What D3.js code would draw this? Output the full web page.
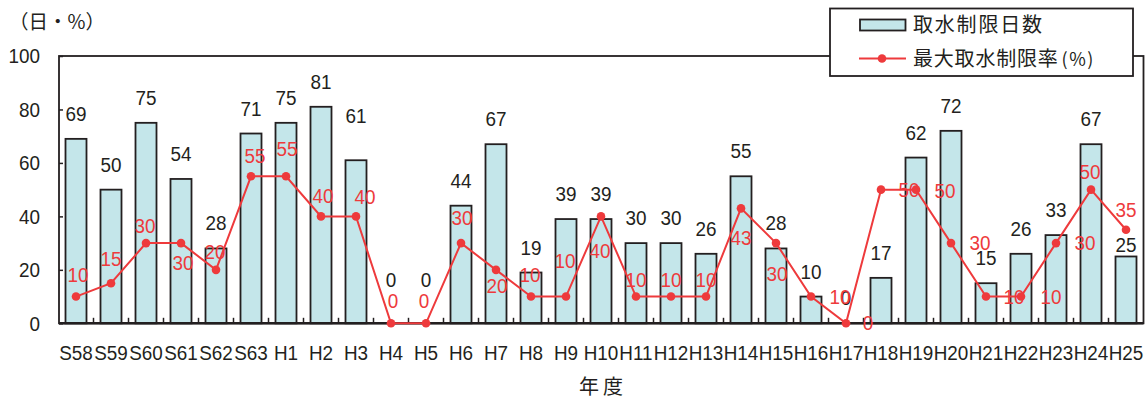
<!DOCTYPE html>
<html lang="ja">
<head>
<meta charset="utf-8">
<script src="https://cdn.jsdelivr.net/npm/d3@7"></script>
<style>
  html, body { margin: 0; padding: 0; background: #fff; }
  svg { display: block; }
</style>
</head>
<body>
<script>
// 年度
const years = ["S58","S59","S60","S61","S62","S63",
  "H1","H2","H3","H4","H5","H6","H7","H8","H9","H10",
  "H11","H12","H13","H14","H15","H16","H17","H18","H19","H20",
  "H21","H22","H23","H24","H25"];
// 取水制限日数（日）
const restrictionDays = [69,50,75,54,28,71,
  75,81,61,0,0,44,67,19,39,39,
  30,30,26,55,28,10,0,17,62,72,
  15,26,33,67,25];
// 最大取水制限率（%）
const maxRate = [10,15,30,30,20,55,
  55,40,40,0,0,30,20,10,10,40,
  10,10,10,43,30,10,0,50,50,30,
  10,10,30,50,35];
const yTicks = [0,20,40,60,80,100];

// label nudges (px): extra lift for some day labels, [dx, dy-of-baseline] for rate labels
const dayLabelLift = { H3: 19, H4: 18, H5: 18, H25: -14 };
const rateLabelShift = {
  S58: [2,-15], S59: [0,-17], S60: [-1,-10], S61: [2,27], S62: [-1,-11], S63: [4,-13],
  H1: [1,-20], H2: [2,-13], H3: [9,-12], H4: [2,-15], H5: [-2,-15], H6: [1,-18],
  H7: [1,23], H8: [-1,-15], H9: [-1,-29], H10: [-1,42], H11: [0,-10], H12: [0,-10],
  H13: [0,-10], H14: [0,37], H15: [1,38], H16: [29,7], H17: [22,7], H18: [28,7],
  H19: [29,8], H20: [29,7], H21: [28,7], H22: [30,7], H23: [29,7], H24: [-1,-11], H25: [0,-13]
};

const W = 1146, H = 400;
const plot = { left: 59, right: 1143.5, top: 56, bottom: 323.3 };
const ink = "#231f20", red = "#ee3a3c", barFill = "#c4e6ea";
const numFont = "'Liberation Sans', Arial, sans-serif";
const numSize = "21px";
const squeeze = 0.9; // horizontal condensing of the numeric font
const jpFont = "'Noto Sans CJK JP', 'Noto Sans', sans-serif";

const svg = d3.select("body").append("svg").attr("width", W).attr("height", H);

const x = d3.scaleBand().domain(years)
  .range([58.5, plot.right]).paddingInner(0.4).paddingOuter(0.2);
const y = d3.scaleLinear().domain([0, 100]).range([plot.bottom, plot.top]);
const cx = d => x(d) + x.bandwidth() / 2;

// condensed numeric text placed at (px, py)
function numText(sel, px, py, color) {
  return sel
    .attr("transform", (d, i) => `translate(${px(d, i)},${py(d, i)}) scale(${squeeze},1)`)
    .attr("text-anchor", "middle").attr("fill", color)
    .style("font-family", numFont).style("font-size", numSize);
}

// plot frame
svg.append("rect")
  .attr("x", plot.left).attr("y", plot.top)
  .attr("width", plot.right - plot.left).attr("height", plot.bottom - plot.top)
  .attr("fill", "none").attr("stroke", ink).attr("stroke-width", 1.8);

// y axis (inward ticks)
const gy = svg.append("g").attr("transform", `translate(${plot.left},0)`)
  .call(d3.axisLeft(y).tickValues(yTicks).tickSize(-4).tickPadding(19));
gy.select(".domain").remove();
gy.selectAll(".tick line").attr("stroke", ink).attr("stroke-width", 1.5);
gy.selectAll(".tick text").attr("fill", ink)
  .attr("x", -19 / squeeze).attr("transform", `scale(${squeeze},1)`)
  .style("font-family", numFont).style("font-size", numSize);

// x axis labels
const gx = svg.append("g").attr("transform", `translate(0,${plot.bottom})`)
  .call(d3.axisBottom(x).tickSize(0).tickPadding(21.5));
gx.select(".domain").remove();
gx.selectAll(".tick text").attr("fill", ink)
  .attr("transform", `scale(${squeeze},1)`)
  .style("font-family", numFont).style("font-size", numSize);

// bars
svg.append("g").selectAll("rect").data(years).join("rect")
  .attr("x", d => x(d))
  .attr("y", (d, i) => y(restrictionDays[i]))
  .attr("width", x.bandwidth())
  .attr("height", (d, i) => y(0) - y(restrictionDays[i]))
  .attr("fill", barFill).attr("stroke", ink).attr("stroke-width", 1.8)
  .attr("display", (d, i) => restrictionDays[i] > 0 ? null : "none");

// category boundary ticks on the baseline
const gap = x.step() * x.paddingInner() / 2;
svg.append("g").selectAll("line").data(years.slice(1)).join("line")
  .attr("x1", d => x(d) - gap).attr("x2", d => x(d) - gap)
  .attr("y1", plot.bottom).attr("y2", plot.bottom - 5.5)
  .attr("stroke", ink).attr("stroke-width", 1.5);

// baseline
svg.append("line")
  .attr("x1", plot.left).attr("x2", plot.right)
  .attr("y1", plot.bottom).attr("y2", plot.bottom)
  .attr("stroke", ink).attr("stroke-width", 2.4);

// day value labels
numText(svg.append("g").selectAll("text").data(years).join("text"),
  d => cx(d),
  (d, i) => y(restrictionDays[i]) - 18 - (dayLabelLift[d] || 0), ink)
  .text((d, i) => restrictionDays[i]);

// rate line and markers
const line = d3.line().x(d => cx(d)).y((d, i) => y(maxRate[i]));
svg.append("path").datum(years)
  .attr("d", line).attr("fill", "none").attr("stroke", red).attr("stroke-width", 2);
svg.append("g").selectAll("circle").data(years).join("circle")
  .attr("cx", d => cx(d)).attr("cy", (d, i) => y(maxRate[i])).attr("r", 4.3)
  .attr("fill", red);

// rate value labels
numText(svg.append("g").selectAll("text").data(years).join("text"),
  d => cx(d) + (rateLabelShift[d] || [0, -13])[0],
  (d, i) => y(maxRate[i]) + (rateLabelShift[d] || [0, -13])[1], red)
  .text((d, i) => maxRate[i]);

// unit label and axis title
svg.append("text").attr("x", 9).attr("y", 29)
  .attr("fill", ink).style("font-family", jpFont).style("font-size", "19.5px")
  .text("（日・%）");
svg.append("text").attr("x", 603).attr("y", 394)
  .attr("text-anchor", "middle").attr("fill", ink)
  .style("font-family", jpFont).style("font-size", "20px").style("letter-spacing", "4px")
  .text("年度");

// legend
const lg = svg.append("g");
lg.append("rect").attr("x", 830).attr("y", 8.5).attr("width", 303).attr("height", 67.5)
  .attr("fill", "#fff").attr("stroke", ink).attr("stroke-width", 1.8);
lg.append("rect").attr("x", 860).attr("y", 19.5).attr("width", 45.5).attr("height", 11)
  .attr("fill", barFill).attr("stroke", ink).attr("stroke-width", 1.8);
lg.append("text").attr("x", 913).attr("y", 32)
  .attr("fill", ink).style("font-family", jpFont).style("font-size", "20px").style("letter-spacing", "1.8px")
  .text("取水制限日数");
lg.append("line").attr("x1", 859).attr("x2", 906).attr("y1", 58.5).attr("y2", 58.5)
  .attr("stroke", red).attr("stroke-width", 2);
lg.append("circle").attr("cx", 882).attr("cy", 58.5).attr("r", 4.3).attr("fill", red);
const lt = lg.append("text").attr("x", 913).attr("y", 66)
  .attr("fill", ink).style("font-family", jpFont).style("font-size", "20px").style("letter-spacing", "0.8px");
lt.append("tspan").text("最大取水制限率");
lt.append("tspan").attr("dx", 3).style("font-size", "18px").style("letter-spacing", "1.5px").text("(%)");
</script>
</body>
</html>
